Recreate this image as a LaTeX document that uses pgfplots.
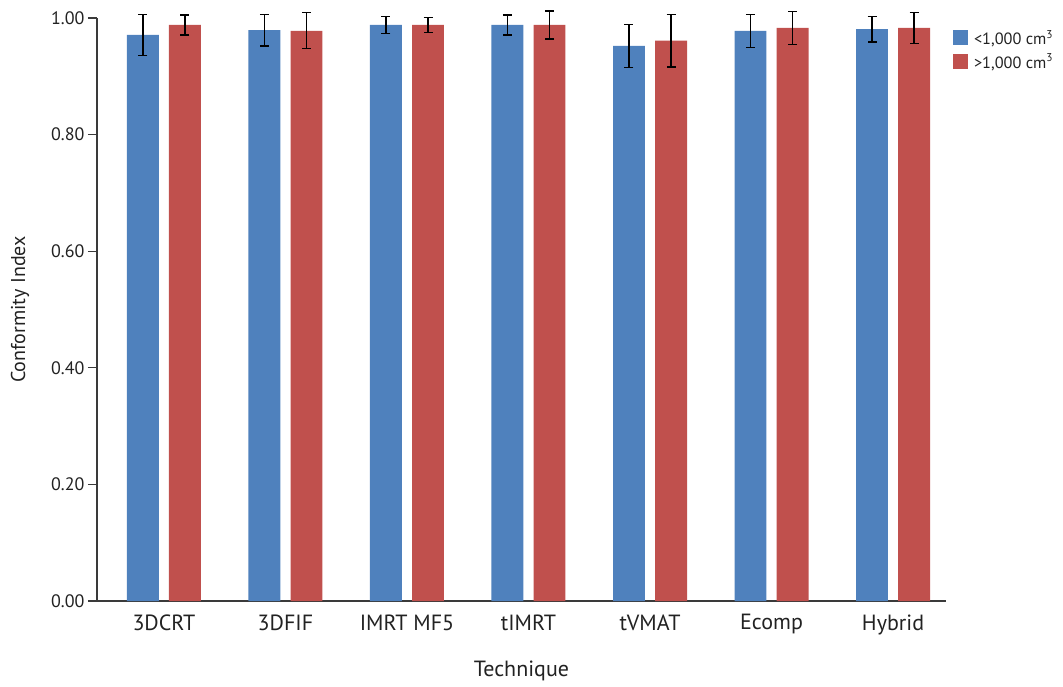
\documentclass[border=0pt]{standalone}
\usepackage{fontspec}
\setmainfont{PT Sans}
\usepackage{pgfplots}
\pgfplotsset{compat=1.18}
\definecolor{BarBlue}{HTML}{4F81BD}
\definecolor{BarRed}{HTML}{C0504D}
\definecolor{TextDark}{HTML}{222222}
\definecolor{AxisGray}{HTML}{3A3A3A}

\begin{document}
\begin{tikzpicture}
\begin{axis}[
    scale only axis,
    width=849pt, height=583pt,
    xmin=-0.551, xmax=6.436,
    ymin=0, ymax=1,
    axis lines=left,
    axis line style={-, draw=AxisGray, line width=1.2pt},
    xtick={0,1,2,3,4,5,6},
    xticklabels={3DCRT,3DFIF,IMRT MF5,tIMRT,tVMAT,Ecomp,Hybrid},
    major x tick style={draw=none},
    ytick={0,0.2,0.4,0.6,0.8,1},
    yticklabel style={/pgf/number format/.cd, fixed, fixed zerofill, precision=2, assume math mode=true},
    tick align=outside,
    major tick length=9pt,
    major y tick style={draw=AxisGray, line width=1.2pt},
    tick label style={font=\fontsize{18}{20}\selectfont, text=TextDark},
    xticklabel style={font=\fontsize{22}{24}\selectfont, yshift=-1pt},
    ylabel={Conformity Index},
    xlabel={Technique},
    label style={font=\fontsize{20}{22}\selectfont, text=TextDark},
    xlabel style={font=\fontsize{22}{24}\selectfont},
    ylabel style={at={(axis description cs:-0.0907,0.5)}, anchor=center},
    xlabel style={at={(axis description cs:0.5,-0.12)}, anchor=center},
    ybar,
    bar width=0.263,
    clip=false,
    legend style={at={(1.008,0.983)}, anchor=north west, draw=none, fill=none,
        font=\fontsize{16.3}{18}\selectfont, text=TextDark,
        row sep=4pt, inner sep=0pt},
    legend cell align=left,
    legend image code/.code={\fill[#1] (0pt,-7.5pt) rectangle (15pt,7.5pt); \path (19pt,0pt);},
]
\addplot[draw=none, fill=BarBlue, bar shift=-0.173,
    error bars/.cd, y dir=both, y explicit,
    error bar style={black, line width=1.2pt},
    error mark options={black, line width=1.2pt, mark size=4.5pt, rotate=90}]
coordinates {
    (0,0.971) +- (0,0.035)
    (1,0.979) +- (0,0.027)
    (2,0.988) +- (0,0.014)
    (3,0.988) +- (0,0.017)
    (4,0.952) +- (0,0.037)
    (5,0.978) +- (0,0.028)
    (6,0.981) +- (0,0.022)
};
\addlegendentry{<1,000 cm\textsuperscript{3}}
\addplot[draw=none, fill=BarRed, bar shift=0.173,
    error bars/.cd, y dir=both, y explicit,
    error bar style={black, line width=1.2pt},
    error mark options={black, line width=1.2pt, mark size=4.5pt, rotate=90}]
coordinates {
    (0,0.988) +- (0,0.017)
    (1,0.978) +- (0,0.031)
    (2,0.988) +- (0,0.013)
    (3,0.988) +- (0,0.024)
    (4,0.961) +- (0,0.045)
    (5,0.983) +- (0,0.028)
    (6,0.983) +- (0,0.027)
};
\addlegendentry{>1,000 cm\textsuperscript{3}}
\end{axis}
\pgfresetboundingbox
\useasboundingbox (-97pt,-85pt) rectangle (966pt,601pt);
\end{tikzpicture}
\end{document}
